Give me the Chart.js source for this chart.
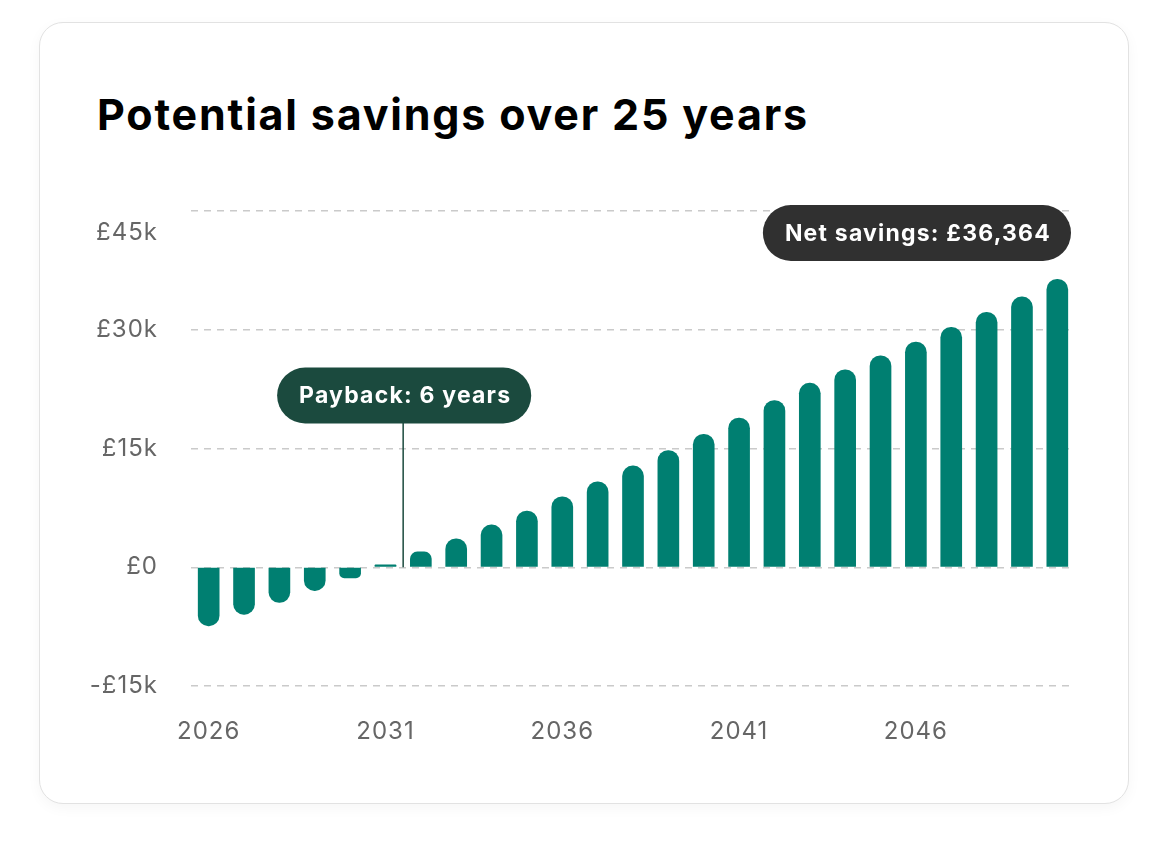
<!DOCTYPE html>
<html>
<head>
<meta charset="utf-8">
<title>Potential savings over 25 years</title>
<script src="https://cdn.jsdelivr.net/npm/chart.js@4.4.1/dist/chart.umd.min.js"></script>
<style>
    body { margin: 0; background: #fff; font-family: Inter, "Noto Sans", sans-serif; }
    .card {
        position: absolute; left: 39px; top: 22px; width: 1090px; height: 782px;
        box-sizing: border-box; border: 1.5px solid #e2e2e2; border-radius: 24px;
        background: #fff; box-shadow: 0 4px 14px rgba(0, 0, 0, 0.04);
    }
    .title {
        position: absolute; left: 97px; top: 90px; margin: 0;
        font-size: 43px; line-height: 48px; font-weight: 700; color: #000; letter-spacing: 1.8px;
    }
    .chart-box { position: absolute; left: 60px; top: 150px; width: 1040px; height: 640px; }
</style>
</head>
<body>
<div class="card"></div>
<h1 class="title">Potential savings over 25 years</h1>
<div class="chart-box"><canvas id="savings-chart"></canvas></div>
<script>
const years = ['2026', '2027', '2028', '2029', '2030', '2031', '2032', '2033', '2034', '2035',
    '2036', '2037', '2038', '2039', '2040', '2041', '2042', '2043', '2044', '2045',
    '2046', '2047', '2048', '2049', '2050'];
const netSavings = [-7400, -5950, -4450, -2950, -1350, 300, 1950, 3600, 5350, 7100,
    8900, 10800, 12800, 14750, 16800, 18850, 21050, 23250, 24950, 26700,
    28450, 30300, 32200, 34150, 36364];
const yTicks = [-15000, 0, 15000, 30000, 45000];
const labeledYears = ['2026', '2031', '2036', '2041', '2046'];
const paybackText = 'Payback: 6 years';
const paybackAfter = 5; // line sits between 2031 and 2032
const totalText = 'Net savings: £36,364';

const labelFont = '400 24px Inter, "Noto Sans", sans-serif';
const pillFont = '700 23px Inter, "Noto Sans", sans-serif';

function money(v) {
    if (v === 0) return '£0';
    let s = '£' + Math.abs(v / 1000) + 'k';
    return v < 0 ? '-' + s : s;
}

function pillWidth(ctx, text) {
    ctx.font = pillFont;
    ctx.letterSpacing = '1.2px';
    return ctx.measureText(text).width + 42;
}

function drawPill(ctx, cx, cy, text, bg) {
    let w = pillWidth(ctx, text);
    let h = 56;
    ctx.fillStyle = bg;
    ctx.beginPath();
    ctx.roundRect(cx - w / 2, cy - h / 2, w, h, h / 2);
    ctx.fill();
    ctx.fillStyle = '#fff';
    ctx.textAlign = 'center';
    ctx.textBaseline = 'middle';
    ctx.fillText(text, cx + 1, cy + 1);
}

const overlay = {
    id: 'overlay',
    afterDatasetsDraw(chart) {
        const { ctx, chartArea, scales: { x, y } } = chart;
        ctx.save();

        // axis labels
        ctx.font = labelFont;
        ctx.letterSpacing = '1px';
        ctx.fillStyle = '#666';
        ctx.textBaseline = 'middle';
        ctx.textAlign = 'right';
        yTicks.forEach(v => {
            let py = y.getPixelForValue(v);
            if (v === y.max) py += 22; // top label sits below its grid line
            ctx.fillText(money(v), chartArea.left - 33, py);
        });
        ctx.textAlign = 'center';
        years.forEach((yr, i) => {
            if (labeledYears.includes(yr)) {
                ctx.fillText(yr, x.getPixelForValue(i), chartArea.bottom + 46);
            }
        });

        // payback marker
        let px = (x.getPixelForValue(paybackAfter) + x.getPixelForValue(paybackAfter + 1)) / 2;
        let pcy = y.getPixelForValue(15000) - 53;
        ctx.strokeStyle = '#1b4a3e';
        ctx.lineWidth = 1.5;
        ctx.beginPath();
        ctx.moveTo(px, pcy);
        ctx.lineTo(px, y.getPixelForValue(0));
        ctx.stroke();
        drawPill(ctx, px + 1, pcy, paybackText, '#1b4a3e');

        // total label
        let tw = pillWidth(ctx, totalText);
        drawPill(ctx, chartArea.right - 4 - tw / 2, y.getPixelForValue(45000) + 22, totalText, '#303030');

        ctx.restore();
    }
};

new Chart(document.getElementById('savings-chart'), {
    type: 'bar',
    data: {
        labels: years,
        datasets: [{
            data: netSavings,
            backgroundColor: '#007f71',
            barThickness: 21,
            borderRadius: 11,
            borderSkipped: 'start'
        }]
    },
    options: {
        responsive: true,
        maintainAspectRatio: false,
        animation: false,
        layout: { padding: { top: 61, right: 25, left: 0, bottom: 0 } },
        plugins: {
            legend: { display: false },
            tooltip: { enabled: false }
        },
        scales: {
            x: {
                grid: { display: false, drawTicks: false },
                border: { display: false },
                afterFit: (scale) => { scale.height = 104; },
                ticks: { display: false }
            },
            y: {
                min: -15000,
                max: 45000,
                afterFit: (scale) => { scale.width = 131; },
                afterBuildTicks: (scale) => { scale.ticks = yTicks.map(v => ({ value: v })); },
                grid: { color: '#cacaca', lineWidth: 1.5, drawTicks: false },
                border: { display: false, dash: [7, 6] },
                ticks: { display: false }
            }
        }
    },
    plugins: [overlay]
});
</script>
</body>
</html>
